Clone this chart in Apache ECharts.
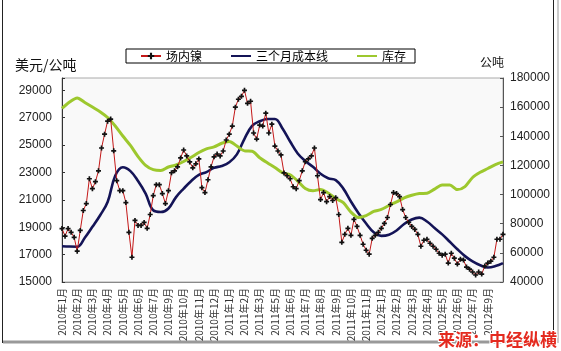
<!DOCTYPE html>
<html>
<head>
<meta charset="utf-8">
<script src="https://cdn.jsdelivr.net/npm/echarts@6/dist/echarts.min.js"></script>
<style>
html, body { margin: 0; padding: 0; background: #fff; }
#chart { width: 561px; height: 351px; }
</style>
</head>
<body>
<div id="chart"></div>
<script>
// x axis tick labels (one every few trading days, as in the original sheet)
var monthLabels = [
    '2010年1月', '2010年2月', '2010年3月', '2010年4月', '2010年5月', '2010年6月',
    '2010年7月', '2010年9月', '2010年10月', '2010年11月', '2010年12月',
    '2011年1月', '2011年2月', '2011年3月', '2011年5月', '2011年6月', '2011年7月',
    '2011年8月', '2011年9月', '2011年10月', '2011年11月',
    '2012年1月', '2012年2月', '2012年3月', '2012年4月', '2012年5月', '2012年6月',
    '2012年7月', '2012年9月'
];

// 场内镍, USD/t (5 points per label step)
var price = [
    18900, 18350, 18900, 18630, 18260, 17250, 18770, 20220, 20730, 22540,
    21820, 22330, 23120, 24790, 25800, 26750, 26900, 24580, 22400, 21670,
    21670, 20800, 18630, 16810, 19500, 19130, 19130, 19350, 18920, 19930,
    21310, 22110, 22110, 21460, 20730, 21670, 22980, 23120, 23410, 24060,
    24640, 24210, 23770, 23340, 23630, 23990, 21890, 21530, 22470, 23410,
    24140, 24350, 24210, 24570, 25370, 25800, 26390, 27770, 28350, 28560,
    29000, 28050, 28200, 25880, 25440, 26460, 26390, 27330, 25880, 26530,
    24930, 24570, 24280, 22970, 22760, 22540, 21960, 21820, 22400, 23120,
    23780, 23990, 24210, 24790, 22760, 21020, 21530, 20870, 21240, 20950,
    21160, 19930, 17900, 18480, 18920, 18410, 19570, 19060, 18410, 17760,
    17320, 17030, 18190, 18410, 18630, 18920, 19280, 19710, 20660, 21530,
    21460, 21240, 20290, 19710, 19350, 19060, 18840, 18480, 17610, 18050,
    18120, 17830, 17610, 17390, 17100, 16960, 17030, 16380, 17100, 16740,
    16310, 16670, 16600, 16090, 15940, 15730, 15510, 15730, 15580, 16160,
    16380, 16520, 16810, 18120, 18120, 18480
];

// 三个月成本线, USD/t (2 points per label step)
var costLine = [
    17610, 17590, 17580, 18230, 19030, 19860, 20840, 22760, 23380, 23100,
    22380, 21460, 20240, 20110, 20370, 21200, 21820, 22380, 22830, 23030,
    23340, 23470, 23740, 24320, 25460, 26400, 26740, 26900, 26910, 26210,
    25260, 24390, 23840, 23410, 22910, 22580, 22440, 21820, 20880, 20020,
    19270, 18630, 18370, 18450, 18760, 19240, 19570, 19700, 19420, 18940,
    18480, 17940, 17390, 16890, 16500, 16220, 16060, 16160, 16380
];

// 库存, tonnes (2 points per label step)
var stock = [
    159100, 163500, 166300, 163200, 160100, 156900, 152900, 147100, 140200, 133700,
    126100, 120100, 117100, 116500, 118900, 120300, 122700, 125600, 128900, 131400,
    132700, 135200, 136400, 133300, 130000, 129700, 125300, 121800, 118600, 115000,
    113600, 109300, 104200, 102600, 103500, 101100, 97300, 94400, 88000, 84300,
    85600, 88400, 89800, 92500, 95000, 97700, 99500, 100700, 100900, 103700,
    106600, 106600, 103400, 105500, 111700, 115300, 117900, 120600, 122400
];

var PER_LABEL = 5;
var priceCats = price.map(function (v, i) {
    return i % PER_LABEL === 0 ? (monthLabels[i / PER_LABEL] || '') : '';
});
var smoothCats = costLine.map(function (v, i) { return 'p' + i; });

var plusIcon = 'path://M-1,-3H1V-1H3V1H1V3H-1V1H-3V-1H-1Z';
var numFont = 'Liberation Sans';
var cjkFont = 'Noto Sans CJK SC';

var chart = echarts.init(document.getElementById('chart'));

var option = {
    animation: false,
    backgroundColor: '#fff',
    grid: {
        left: 62, right: 58, top: 78, bottom: 69,
        show: true,
        borderColor: '#aaa',
        borderWidth: 1,
        backgroundColor: '#f9f9f9'
    },
    legend: {
        left: 126,
        top: 49,
        padding: [1, 9, 1, 14],
        borderColor: '#000',
        borderWidth: 1,
        itemWidth: 20,
        itemHeight: 8,
        itemGap: 28,
        textStyle: { fontFamily: cjkFont, fontSize: 12, color: '#000' },
        data: [
            { name: '场内镍' },
            { name: '三个月成本线', itemStyle: { opacity: 0 } },
            { name: '库存', itemStyle: { opacity: 0 } }
        ]
    },
    xAxis: [
        {
            type: 'category',
            data: priceCats,
            boundaryGap: false,
            axisLine: { lineStyle: { color: '#888' } },
            axisTick: { show: false },
            axisLabel: {
                interval: PER_LABEL - 1,
                rotate: 90,
                margin: 6,
                fontFamily: cjkFont,
                fontSize: 10,
                color: '#333'
            }
        },
        {
            type: 'category',
            data: smoothCats,
            boundaryGap: false,
            show: false
        }
    ],
    yAxis: [
        {
            type: 'value',
            min: 15000,
            max: 29900,
            interval: 2000,
            position: 'left',
            axisLine: { show: true, lineStyle: { color: '#333' } },
            axisTick: { show: true, inside: true, length: 3, lineStyle: { color: '#333' } },
            splitLine: { show: false },
            axisLabel: {
                margin: 10,
                fontFamily: numFont,
                fontSize: 12,
                color: '#222',
                formatter: function (v) { return (v - 15000) % 2000 === 0 ? String(v) : ''; }
            }
        },
        {
            type: 'value',
            min: 40000,
            max: 180000,
            interval: 20000,
            position: 'right',
            axisLine: { show: true, lineStyle: { color: '#555' } },
            axisTick: { show: true, inside: true, length: 3, lineStyle: { color: '#555' } },
            splitLine: { show: false },
            axisLabel: {
                margin: 7,
                fontFamily: numFont,
                fontSize: 12,
                color: '#222',
                formatter: function (v) { return String(v); }
            }
        }
    ],
    series: [
        {
            name: '三个月成本线',
            type: 'line',
            xAxisIndex: 1,
            yAxisIndex: 0,
            data: costLine,
            smooth: 0.4,
            symbol: 'none',
            lineStyle: { color: '#141457', width: 2.6 },
            itemStyle: { color: '#141457' },
            z: 2
        },
        {
            name: '库存',
            type: 'line',
            xAxisIndex: 1,
            yAxisIndex: 1,
            data: stock,
            smooth: 0.3,
            symbol: 'none',
            lineStyle: { color: '#9dc82e', width: 3 },
            itemStyle: { color: '#9dc82e' },
            z: 3
        },
        {
            name: '场内镍',
            type: 'line',
            xAxisIndex: 0,
            yAxisIndex: 0,
            data: price,
            showAllSymbol: true,
            symbol: plusIcon,
            symbolSize: 5,
            lineStyle: { color: '#c41818', width: 1 },
            itemStyle: { color: '#111' },
            z: 4
        }
    ],
    graphic: [
        { type: 'line', shape: { x1: 2.5, y1: 0, x2: 2.5, y2: 343 }, style: { stroke: '#222', lineWidth: 1 } },
        { type: 'line', shape: { x1: 553.5, y1: 0, x2: 553.5, y2: 343 }, style: { stroke: '#222', lineWidth: 1 } },
        { type: 'line', shape: { x1: 558, y1: 0, x2: 558, y2: 343 }, style: { stroke: '#999', lineWidth: 1 } },
        { type: 'line', shape: { x1: 3, y1: 342, x2: 556, y2: 342 }, style: { stroke: '#999', lineWidth: 3 } },
        {
            type: 'text', left: 15, top: 58,
            style: { text: '美元/公吨', font: '14px "Noto Sans CJK SC"', fill: '#111' }
        },
        {
            type: 'text', left: 480, top: 56,
            style: { text: '公吨', font: '12px "Noto Sans CJK SC"', fill: '#111' }
        },
        {
            type: 'text', left: 437, top: 330,
            style: {
                text: '来源：中经纵横',
                font: 'bold 17px "Noto Sans CJK SC"',
                fill: '#e42a1f',
                stroke: '#fff',
                lineWidth: 2
            },
            z: 10
        }
    ]
};

chart.setOption(option);
</script>
</body>
</html>
